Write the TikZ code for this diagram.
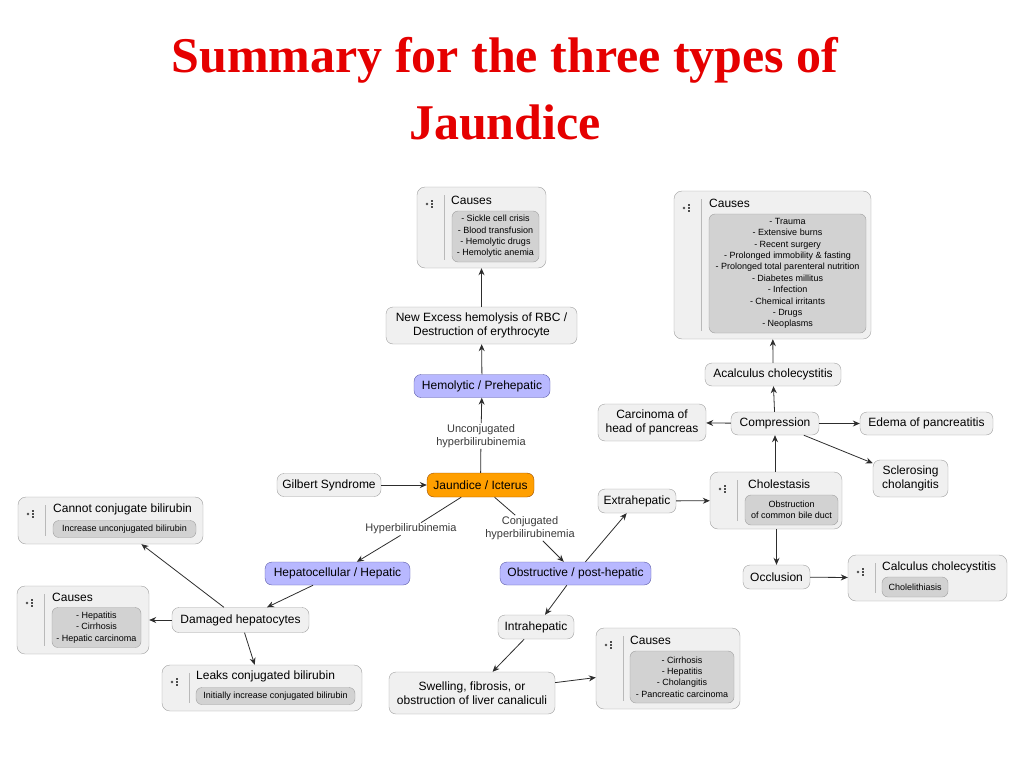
\documentclass[tikz,border=0pt]{standalone}
\usepackage{fontspec}
\setmainfont{Liberation Sans}
\newfontfamily\titlefont{Liberation Serif}
\usetikzlibrary{arrows.meta}

\tikzset{
  plain/.style={draw=gray!75, fill=gray!12, rounded corners=7pt, inner sep=3pt, font=\fontsize{12}{14}\selectfont, align=center},
  lavender/.style={plain, fill=blue!28!white, draw=blue!30!gray},
  orange/.style={plain, fill=orange!75!yellow, draw=orange!60!black},
  infobox/.style={draw=gray!75, fill=gray!12, rounded corners=8pt},
  listbox/.style={draw=gray!75, fill=gray!35, rounded corners=6pt, inner sep=2pt, align=center, font=\fontsize{9}{11.4}\selectfont},
  boxtitle/.style={anchor=west, inner sep=0pt, font=\fontsize{12}{14}\selectfont},
  edgelabel/.style={text=gray!45!black, align=center, inner sep=1pt, font=\fontsize{11}{13}\selectfont},
  link/.style={draw=gray!35!black, thick, -{Stealth[length=7pt,width=6pt]}},
  bare/.style={draw=gray!35!black, thick}
}

% outer frame of a box with icon: name, x1, y1, x2, y2
\newcommand\infoframe[5]{%
  \node[infobox, minimum width={#4-#2}, minimum height={#5-#3}] (#1) at ({(#2+#4)/2},{(#3+#5)/2}) {};
  \fill[gray!60!black] ({#2+10},{#3+17}) circle (1.4);
  \foreach \k in {-3,0,3} \fill[gray!60!black] ({#2+14},{#3+16.3+\k}) rectangle +(2.4,1.5);
  \draw[gray!55] ({#2+27},{#3+8}) -- ({#2+27},{#5-8});
}

\begin{document}
\begin{tikzpicture}[x=1pt,y=-1pt]
  \useasboundingbox (0,0) rectangle (1024,768);

  % title
  \node[text=red!90!black, font=\titlefont\bfseries\fontsize{50}{67}\selectfont, align=center] (title) at (505,89) {Summary for the three types of\\Jaundice};

  % hemolytic branch
  \infoframe{causesA}{417}{187}{546}{268}
  \node[boxtitle] (causesAtitle) at (451,200) {Causes};
  \node[listbox, minimum width=87, minimum height=51] (causesAlist) at (495.5,236.5) {- Sickle cell crisis\\- Blood transfusion\\- Hemolytic drugs\\- Hemolytic anemia};
  \node[plain, minimum width=191, minimum height=37] (excess) at (481.5,325.5) {New Excess hemolysis of RBC /\\Destruction of erythrocyte};
  \node[lavender, minimum width=136, minimum height=23] (hemolytic) at (482,386) {Hemolytic / Prehepatic};
  \node[orange, minimum width=107, minimum height=24] (jaundice) at (480.5,485) {Jaundice / Icterus};
  \node[plain, minimum width=104, minimum height=23] (gilbert) at (329,485) {Gilbert Syndrome};
  \node[edgelabel] (unconj) at (481,436) {Unconjugated\\hyperbilirubinemia};

  \draw[bare] (jaundice) -- (unconj);
  \draw[link] (unconj) -- (hemolytic);
  \draw[link] (hemolytic) -- (excess);
  \draw[link] (excess) -- (causesA);
  \draw[link] (gilbert) -- (jaundice);

  % hepatic branch
  \node[edgelabel] (hyper) at (411,529) {Hyperbilirubinemia};
  \node[lavender, minimum width=145, minimum height=23] (hepatic) at (337.5,573.5) {Hepatocellular / Hepatic};
  \node[plain, minimum width=137, minimum height=25] (damaged) at (240.5,620) {Damaged hepatocytes};
  \infoframe{cannot}{18}{497}{203}{544}
  \node[boxtitle] (cannottitle) at (53,509) {Cannot conjugate bilirubin};
  \node[listbox, minimum width=143, minimum height=17] (cannotlist) at (124.5,529) {Increase unconjugated bilirubin};
  \infoframe{causesC}{17}{586}{149}{654}
  \node[boxtitle] (causesCtitle) at (52,597) {Causes};
  \node[listbox, minimum width=89, minimum height=40] (causesClist) at (96.5,627.5) {- Hepatitis\\- Cirrhosis\\- Hepatic carcinoma};
  \infoframe{leaks}{162}{665}{362}{711}
  \node[boxtitle] (leakstitle) at (196,676) {Leaks conjugated bilirubin};
  \node[listbox, minimum width=159, minimum height=17] (leakslist) at (275.5,696) {Initially increase conjugated bilirubin};

  \draw[bare] (jaundice) -- (hyper);
  \draw[link] (hyper) -- (hepatic);
  \draw[link] (hepatic) -- (damaged);
  \draw[link] (damaged) -- (cannot);
  \draw[link] (damaged) -- (causesC);
  \draw[link] (damaged) -- (leaks);

  % obstructive branch
  \node[edgelabel] (conj) at (530,528) {Conjugated\\hyperbilirubinemia};
  \node[lavender, minimum width=151, minimum height=23] (obstructive) at (575.5,573.5) {Obstructive / post-hepatic};
  \node[plain, minimum width=76, minimum height=24] (intra) at (536,627) {Intrahepatic};
  \node[plain, minimum width=166, minimum height=42] (swelling) at (472,693) {Swelling, fibrosis, or\\obstruction of liver canaliculi};
  \infoframe{causesD}{596}{628}{740}{709}
  \node[boxtitle] (causesDtitle) at (630,640) {Causes};
  \node[listbox, minimum width=104, minimum height=52] (causesDlist) at (682,677) {- Cirrhosis\\- Hepatitis\\- Cholangitis\\- Pancreatic carcinoma};

  \draw[bare] (jaundice) -- (conj);
  \draw[link] (conj) -- (obstructive);
  \draw[link] (obstructive) -- (intra);
  \draw[link] (intra) -- (swelling);
  \draw[link] (swelling) -- (causesD);

  % extrahepatic
  \node[plain, minimum width=78, minimum height=24] (extra) at (637,501) {Extrahepatic};
  \infoframe{cholestasis}{710}{472}{842}{529}
  \node[boxtitle] (cholestasistitle) at (748,484) {Cholestasis};
  \node[listbox, minimum width=93, minimum height=30, font=\fontsize{9}{11}\selectfont] (cholestasislist) at (791.5,510) {Obstruction\\of common bile duct};
  \node[plain, minimum width=67, minimum height=24] (occlusion) at (776.5,577) {Occlusion};
  \infoframe{calculus}{848}{555}{1007}{601}
  \node[boxtitle] (calculustitle) at (882,567) {Calculus cholecystitis};
  \node[listbox, minimum width=66, minimum height=20] (calculuslist) at (915,587) {Cholelithiasis};
  \node[plain, minimum width=88, minimum height=23] (compression) at (775,423.5) {Compression};
  \node[plain, minimum width=108, minimum height=37] (carcinoma) at (652,422.5) {Carcinoma of\\head of pancreas};
  \node[plain, minimum width=133, minimum height=23] (edema) at (926.5,423.5) {Edema of pancreatitis};
  \node[plain, minimum width=75, minimum height=37] (sclerosing) at (910.5,478.5) {Sclerosing\\cholangitis};
  \node[plain, minimum width=136, minimum height=23] (acalculus) at (773,374.5) {Acalculus cholecystitis};
  \infoframe{causesB}{674}{191}{871}{339}
  \node[boxtitle] (causesBtitle) at (709,203) {Causes};
  \node[listbox, minimum width=157, minimum height=119] (causesBlist) at (787.5,273.5) {- Trauma\\- Extensive burns\\- Recent surgery\\- Prolonged immobility \& fasting\\- Prolonged total parenteral nutrition\\- Diabetes millitus\\- Infection\\- Chemical irritants\\- Drugs\\- Neoplasms};

  \draw[link] (obstructive) -- (extra);
  \draw[link] (extra) -- (cholestasis);
  \draw[link] (cholestasis.north -| compression) -- (compression);
  \draw[link] (cholestasis.south -| occlusion) -- (occlusion);
  \draw[link] (occlusion) -- (calculus);
  \draw[link] (compression) -- (carcinoma);
  \draw[link] (compression) -- (edema);
  \draw[link] (compression) -- (sclerosing);
  \draw[link] (compression) -- (acalculus);
  \draw[link] (acalculus) -- (causesB);
\end{tikzpicture}
\end{document}
